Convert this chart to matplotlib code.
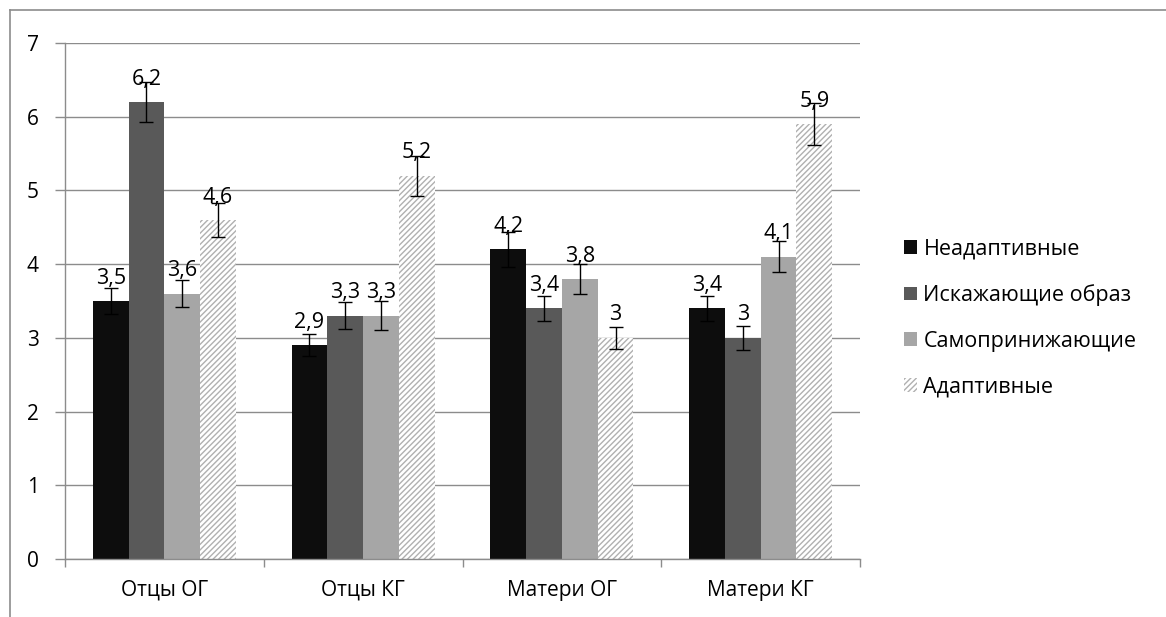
import numpy as np
import matplotlib
matplotlib.use('Agg')
import matplotlib.pyplot as plt
from matplotlib.lines import Line2D
from matplotlib.patches import Patch

plt.rcParams['font.family'] = ['Open Sans', 'DejaVu Sans']
plt.rcParams['hatch.linewidth'] = 1.0

# -- Data --
categories = ['Отцы ОГ', 'Отцы КГ', 'Матери ОГ', 'Матери КГ']
series_names = ['Неадаптивные', 'Искажающие образ', 'Самопринижающие', 'Адаптивные']
values = {
    'Неадаптивные':     [3.5, 2.9, 4.2, 3.4],
    'Искажающие образ': [6.2, 3.3, 3.4, 3.0],
    'Самопринижающие':  [3.6, 3.3, 3.8, 4.1],
    'Адаптивные':       [4.6, 5.2, 3.0, 5.9],
}
errors = {
    'Неадаптивные':     [0.17, 0.15, 0.24, 0.17],
    'Искажающие образ': [0.27, 0.18, 0.17, 0.16],
    'Самопринижающие':  [0.18, 0.20, 0.20, 0.21],
    'Адаптивные':       [0.23, 0.27, 0.15, 0.29],
}

COLORS = {
    'Неадаптивные':     '#0d0d0d',
    'Искажающие образ': '#595959',
    'Самопринижающие':  '#a6a6a6',
    'Адаптивные':       'white',
}
HATCH_COLOR = '#b0b0b0'
AXIS_GREY = '#8c8c8c'

fig = plt.figure(figsize=(11.66, 6.17), dpi=100)
ax = fig.add_axes([65 / 1166, 1 - 559 / 617, (860 - 65) / 1166, (559 - 43) / 617])

x = np.arange(len(categories))
bw = 0.18
for i, name in enumerate(series_names):
    pos = x + (i - 1.5) * bw
    vals = values[name]
    if name == 'Адаптивные':
        ax.bar(pos, vals, bw, color='white', edgecolor=HATCH_COLOR, hatch='//////',
               lw=0, zorder=2)
    else:
        ax.bar(pos, vals, bw, color=COLORS[name], lw=0, zorder=2)
    ax.errorbar(pos, vals, yerr=errors[name], fmt='none', ecolor='black',
                elinewidth=1.0, capsize=5, capthick=1.0, zorder=3)
    for p, v in zip(pos, vals):
        lbl = f"{v:g}".replace('.', ',')
        ax.annotate(lbl, (p, v), xytext=(0, 12.5), textcoords='offset points',
                    ha='center', va='baseline', fontsize=15.5, zorder=4)

ax.set_xlim(-0.5, 3.5)
ax.set_ylim(0, 7)
ax.set_yticks(range(0, 8))
ax.yaxis.grid(True, color=AXIS_GREY, lw=1.0, zorder=0)
ax.set_axisbelow(True)

ax.set_xticks(x)
ax.set_xticklabels(categories)
ax.set_xticks(np.arange(-0.5, 4.0, 1.0), minor=True)
ax.tick_params(axis='x', which='major', length=0, labelsize=15, pad=15)
ax.tick_params(axis='x', which='minor', length=6, color=AXIS_GREY, width=1)
ax.tick_params(axis='y', length=7, color=AXIS_GREY, width=1, labelsize=15, pad=12)

for s in ['top', 'right']:
    ax.spines[s].set_visible(False)
for s in ['left', 'bottom']:
    ax.spines[s].set_color(AXIS_GREY)
    ax.spines[s].set_linewidth(1)

# legend
handles = []
for name in series_names:
    if name == 'Адаптивные':
        handles.append(Patch(facecolor='white', edgecolor=HATCH_COLOR, hatch='//////', lw=0))
    else:
        handles.append(Patch(facecolor=COLORS[name], lw=0))
fig.legend(handles, series_names, loc='center left', bbox_to_anchor=(904 / 1166, 1 - 318 / 617),
           frameon=False, fontsize=15.5, handlelength=0.6, handleheight=0.6,
           handletextpad=0.3, labelspacing=1.15, borderpad=0, borderaxespad=0)

# outer chart border
fig.add_artist(Line2D([10 / 1166, 10 / 1166], [0, 1 - 10 / 617], color=AXIS_GREY, lw=1.2,
                      transform=fig.transFigure))
fig.add_artist(Line2D([10 / 1166, 1], [1 - 10 / 617, 1 - 10 / 617], color=AXIS_GREY, lw=1.2,
                      transform=fig.transFigure))

fig.savefig('out.png', dpi=100)
